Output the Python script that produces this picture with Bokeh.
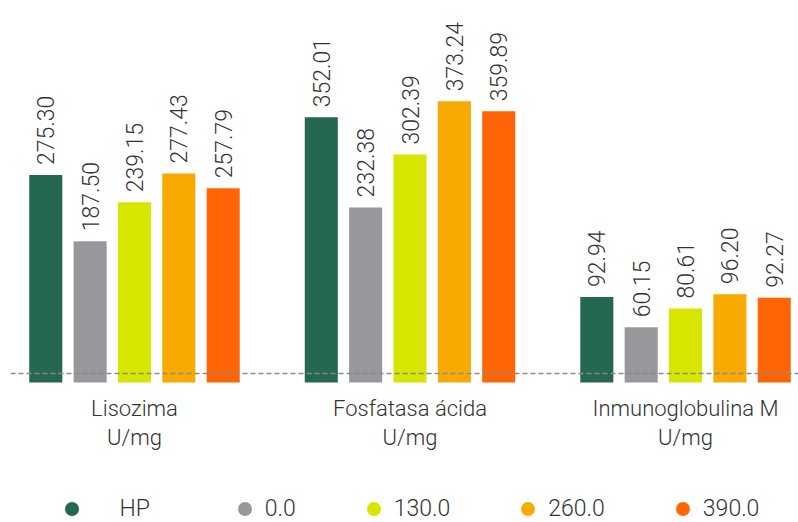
import math
from bokeh.plotting import figure
from bokeh.models import ColumnDataSource, Range1d, Span, Legend, LegendItem
from bokeh.transform import dodge
from bokeh.core.properties import value
from bokeh.embed import file_html
from bokeh.resources import INLINE

# ---- data ----
categories = ["Lisozima", "Fosfatasa ácida", "Inmunoglobulina M"]
unit = "U/mg"
series = ["HP", "0.0", "130.0", "260.0", "390.0"]
hp = [275.30, 352.01, 92.94]
d0 = [187.50, 232.38, 60.15]
d130 = [239.15, 302.39, 80.61]
d260 = [277.43, 373.24, 96.20]
d390 = [257.79, 359.89, 92.27]
values = [hp, d0, d130, d260, d390]

# ---- style ----
colors = ["#256852", "#97989c", "#d6e600", "#f8aa00", "#ff6405"]
offsets = [-0.322, -0.161, 0.0, 0.161, 0.322]
FONT = "Roboto Light, Roboto"
TEXT = "#333333"
NB = "\u00a0"

p = figure(frame_width=788, frame_height=514,
           x_range=Range1d(-0.450, 2.410), y_range=Range1d(-185.8, 496.3),
           output_backend="svg", toolbar_location=None,
           x_axis_location=None, y_axis_location=None,
           min_border_left=10, min_border_right=0, min_border_top=8, min_border_bottom=0,
           outline_line_color=None, background_fill_color="white", border_fill_color="white")
p.extra_y_ranges = {"igm": Range1d(-152.3, 407.0)}
p.grid.visible = False

xs = list(range(len(categories)))
legend_items = []
for s, vals, col, off in zip(series, values, colors, offsets):
    for idxs, rname in (([0, 1], "default"), ([2], "igm")):
        src = ColumnDataSource(dict(
            x=[xs[i] for i in idxs],
            top=[vals[i] for i in idxs],
            lab=["%.2f" % vals[i] for i in idxs],
        ))
        p.vbar(x=dodge("x", off, range=p.x_range), top="top", bottom=0, width=0.12,
               source=src, fill_color=col, line_color=None, y_range_name=rname)
        p.text(x=dodge("x", off, range=p.x_range), y="top", text="lab", source=src,
               angle=math.pi / 2, text_align="left", text_baseline="middle",
               y_offset=-10, text_font=value(FONT), text_font_size="23px",
               text_color=TEXT, y_range_name=rname)
    r = p.scatter(x=[float("nan")], y=[float("nan")], marker="circle", size=14,
                  fill_color=col, line_color=None)
    lab = (NB * 5 + s + NB * 3) if s == "HP" else s
    legend_items.append(LegendItem(label=lab, renderers=[r]))

p.add_layout(Span(location=12, dimension="width", line_color="#8a8a8a",
                  line_width=1.5, line_dash="5 3"))

# category labels below the baseline (two lines)
cat_src = ColumnDataSource(dict(x=xs, y=[0] * len(xs), cat=categories,
                                unit=[unit] * len(xs)))
p.text(x="x", y="y", text="cat", source=cat_src, text_align="center",
       text_baseline="middle", y_offset=26, text_font=value(FONT),
       text_font_size="22px", text_color=TEXT)
p.text(x="x", y="y", text="unit", source=cat_src, text_align="center",
       text_baseline="middle", y_offset=55, text_font=value(FONT),
       text_font_size="22px", text_color=TEXT)

legend = Legend(items=legend_items, orientation="horizontal", location=(43.5, -4),
                glyph_width=35, glyph_height=35, label_standoff=3, spacing=60,
                label_text_font=FONT, label_text_font_size="23px", label_text_color=TEXT,
                border_line_color=None, background_fill_alpha=0, padding=0, margin=0)
p.add_layout(legend)

open("out.html", "w").write(file_html(p, INLINE))
